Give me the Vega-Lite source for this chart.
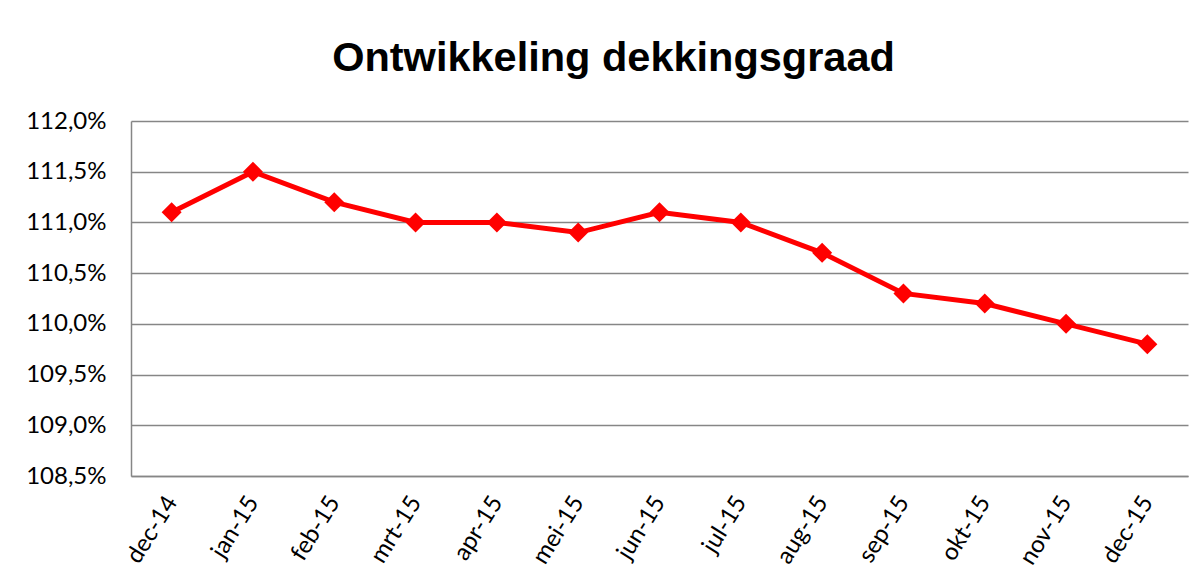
{
  "$schema": "https://vega.github.io/schema/vega-lite/v6.json",
  "autosize": {"type": "none"},
  "width": 1057,
  "height": 355,
  "padding": {"left": 131, "top": 121, "right": 11, "bottom": 109},
  "background": "white",
  "title": {
    "text": "Ontwikkeling dekkingsgraad",
    "font": "Liberation Sans",
    "fontSize": 41.5,
    "fontWeight": "bold",
    "color": "black",
    "anchor": "middle",
    "dx": -46,
    "offset": 30
  },
  "data": {
    "values": [
      {"maand": "dec-14", "dekkingsgraad": 111.1},
      {"maand": "jan-15", "dekkingsgraad": 111.5},
      {"maand": "feb-15", "dekkingsgraad": 111.2},
      {"maand": "mrt-15", "dekkingsgraad": 111.0},
      {"maand": "apr-15", "dekkingsgraad": 111.0},
      {"maand": "mei-15", "dekkingsgraad": 110.9},
      {"maand": "jun-15", "dekkingsgraad": 111.1},
      {"maand": "jul-15", "dekkingsgraad": 111.0},
      {"maand": "aug-15", "dekkingsgraad": 110.7},
      {"maand": "sep-15", "dekkingsgraad": 110.3},
      {"maand": "okt-15", "dekkingsgraad": 110.2},
      {"maand": "nov-15", "dekkingsgraad": 110.0},
      {"maand": "dec-15", "dekkingsgraad": 109.8}
    ]
  },
  "encoding": {
    "x": {
      "field": "maand",
      "type": "ordinal",
      "sort": null,
      "scale": {"type": "point", "padding": 0.5},
      "axis": {
        "title": null,
        "labelAngle": -58,
        "labelFont": "Lato",
        "labelFontSize": 24,
        "labelColor": "black",
        "labelPadding": 22,
        "ticks": false,
        "domainColor": "#868686",
        "domainWidth": 1.5,
        "grid": false
      }
    },
    "y": {
      "field": "dekkingsgraad",
      "type": "quantitative",
      "scale": {"domain": [108.5, 112.0], "nice": false, "zero": false},
      "axis": {
        "title": null,
        "values": [108.5, 109.0, 109.5, 110.0, 110.5, 111.0, 111.5, 112.0],
        "labelExpr": "replace(format(datum.value, '.1f'), '.', ',') + '%'",
        "labelFont": "Lato",
        "labelFontSize": 24,
        "labelColor": "black",
        "labelPadding": 25,
        "ticks": false,
        "domainColor": "#868686",
        "domainWidth": 1.5,
        "gridColor": "#868686",
        "gridWidth": 1.5
      }
    }
  },
  "layer": [
    {"mark": {"type": "line", "color": "#FF0000", "strokeWidth": 5}},
    {"mark": {"type": "point", "shape": "diamond", "filled": true, "color": "#FF0000", "size": 400, "opacity": 1}}
  ],
  "config": {"view": {"stroke": null}}
}
